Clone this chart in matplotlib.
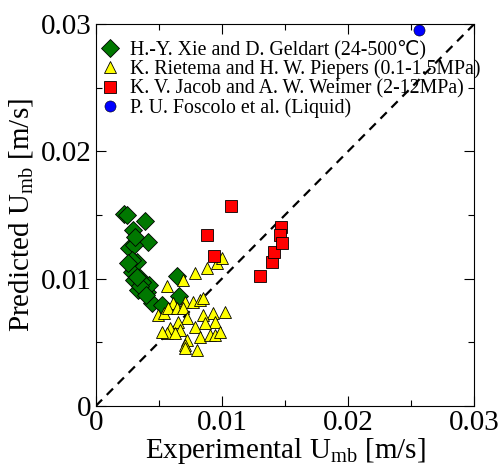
import matplotlib
matplotlib.use('Agg')
import matplotlib.pyplot as plt
from matplotlib.ticker import MultipleLocator

plt.rcParams['font.family'] = ['Liberation Serif', 'DejaVu Sans']
plt.rcParams['mathtext.fontset'] = 'custom'
plt.rcParams['mathtext.rm'] = 'Liberation Serif'
plt.rcParams['mathtext.it'] = 'Liberation Serif:italic'

# H.-Y. Xie and D. Geldart
xie_x = [0.00227, 0.00246, 0.00391, 0.00293, 0.00417, 0.00266, 0.00306, 0.00325, 0.00285,
         0.00285, 0.00259, 0.00351, 0.00338, 0.00404, 0.00425, 0.00444, 0.00523, 0.00647,
         0.00663, 0.00299, 0.00312, 0.00365, 0.00352, 0.00396, 0.00325]
xie_y = [0.01508, 0.01500, 0.01455, 0.01382, 0.01290, 0.01238, 0.01264, 0.01133, 0.01147,
         0.01055, 0.01120, 0.01003, 0.00911, 0.00898, 0.00950, 0.00807, 0.00793, 0.01021,
         0.00864, 0.00990, 0.01330, 0.00976, 0.00940, 0.00872, 0.01016]

# K. Rietema and H. W. Piepers
rie_x = [0.00563, 0.00695, 0.00788, 0.00880, 0.00960, 0.00999, 0.00497, 0.00537, 0.00616,
         0.00576, 0.00642, 0.00708, 0.00774, 0.00827, 0.00854, 0.00695, 0.01025, 0.00933,
         0.00854, 0.00946, 0.00867, 0.00788, 0.00722, 0.00655, 0.00669, 0.00589, 0.00563,
         0.00629, 0.00722, 0.00708, 0.00827, 0.00801, 0.00907, 0.00946, 0.00986, 0.00708,
         0.00523]
rie_y = [0.00946, 0.00990, 0.01042, 0.01081, 0.01120, 0.01160, 0.00715, 0.00728, 0.00806,
         0.00767, 0.00767, 0.00819, 0.00819, 0.00832, 0.00845, 0.00767, 0.00741, 0.00728,
         0.00715, 0.00662, 0.00649, 0.00623, 0.00689, 0.00662, 0.00597, 0.00610, 0.00571,
         0.00571, 0.00518, 0.00479, 0.00545, 0.00440, 0.00558, 0.00558, 0.00584, 0.00453,
         0.00584]

# K. V. Jacob and A. W. Weimer
jac_x = [0.01070, 0.00883, 0.00936, 0.01306, 0.01401, 0.01411, 0.01470, 0.01461, 0.01474]
jac_y = [0.01570, 0.01343, 0.01178, 0.01021, 0.01133, 0.01207, 0.01408, 0.01343, 0.01283]

# P. U. Foscolo et al.
fos_x = [0.02566]
fos_y = [0.02953]

ticks = [0, 0.01, 0.02, 0.03]
tick_labels = ['0', '0.01', '0.02', '0.03']

fig = plt.figure(figsize=(4.99, 4.65), dpi=100)
ax = fig.add_axes([0.192, 0.127, 0.758, 0.821])

ax.plot([0, 0.03], [0, 0.03], 'k--', lw=1.6, dashes=(4, 3))
ax.plot(xie_x, xie_y, 'D', color='#007800', mec='k', mew=0.6, ms=9.5,
        label='H.-Y. Xie and D. Geldart (24-500\u2103)')
ax.plot(rie_x, rie_y, '^', color='#ffff00', mec='k', mew=0.6, ms=9,
        label='K. Rietema and H. W. Piepers (0.1-1.5MPa)')
ax.plot(jac_x, jac_y, 's', color='#ff0000', mec='k', mew=0.6, ms=9,
        label='K. V. Jacob and A. W. Weimer (2-12MPa)')
ax.plot(fos_x, fos_y, 'o', color='#0000ff', mec='k', mew=0.4, ms=8,
        label='P. U. Foscolo et al. (Liquid)')

ax.set_xlim(0, 0.03)
ax.set_ylim(0, 0.03)
ax.set_xticks(ticks, tick_labels)
ax.set_yticks(ticks, tick_labels)
ax.xaxis.set_minor_locator(MultipleLocator(0.005))
ax.yaxis.set_minor_locator(MultipleLocator(0.005))
ax.tick_params(which='both', direction='in', top=True, right=True, labelsize=21, pad=3)
ax.tick_params(which='major', length=7, width=0.8)
ax.tick_params(which='minor', length=4, width=0.8)

ax.set_xlabel('Experimental U$_{\\rm mb}$ [m/s]', fontsize=21, labelpad=0)
ax.set_ylabel('Predicted U$_{\\rm mb}$ [m/s]', fontsize=21, labelpad=4)

ax.legend(loc='upper left', bbox_to_anchor=(0.0, 0.974), frameon=False,
          fontsize=14.3, handlelength=0.8, handletextpad=0.6, labelspacing=0.0,
          borderaxespad=0.0, borderpad=0.3)

fig.savefig('out.png', dpi=100)
